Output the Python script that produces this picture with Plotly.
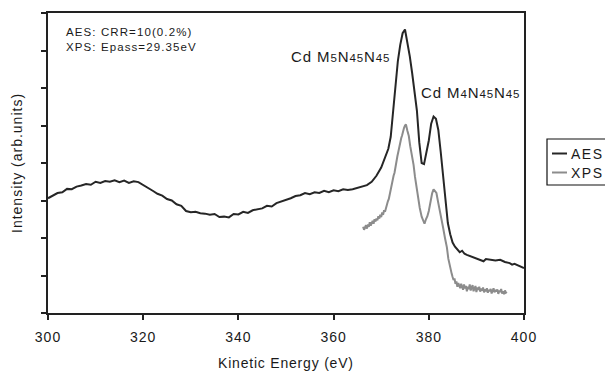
import plotly.graph_objects as go

# AES spectrum (kinetic energy in eV, intensity in arb. units)
aes_ev = [300, 301, 302, 303, 304, 305, 306, 307, 308, 309, 310, 311, 312, 313, 314, 315,
          316, 317, 318, 319, 320, 321, 322, 323, 324, 325, 326, 327, 328, 329, 330, 331,
          332, 333, 334, 335, 336, 337, 338, 339, 340, 341, 342, 343, 344, 345, 346, 347,
          348, 349, 350, 351, 352, 353, 354, 355, 356, 357, 358, 359, 360, 361, 362, 363,
          364, 365, 366, 367, 368, 369, 370, 371, 371.5, 372, 372.5, 373, 373.5, 374, 374.5,
          375, 375.5, 376, 376.5, 377, 377.5, 378, 378.5, 379, 379.5, 380, 380.5, 381, 381.5,
          382, 382.5, 383, 383.5, 384, 384.5, 385, 385.5, 386, 386.5, 387, 387.5, 388, 389,
          390, 391, 391.5, 392, 393, 394, 395, 396, 397, 397.5, 398, 399, 399.5, 400]
aes_int = [3.06, 3.14, 3.20, 3.22, 3.31, 3.30, 3.37, 3.40, 3.44, 3.42, 3.50, 3.47, 3.52, 3.50, 3.54, 3.49,
           3.53, 3.47, 3.51, 3.49, 3.42, 3.35, 3.26, 3.18, 3.13, 3.04, 3.00, 2.90, 2.86, 2.72, 2.69, 2.70,
           2.66, 2.65, 2.62, 2.64, 2.56, 2.57, 2.55, 2.64, 2.63, 2.70, 2.67, 2.74, 2.77, 2.79, 2.86, 2.84,
           2.93, 2.97, 3.01, 3.06, 3.12, 3.14, 3.20, 3.17, 3.22, 3.20, 3.26, 3.22, 3.27, 3.25, 3.30, 3.28,
           3.30, 3.33, 3.38, 3.41, 3.50, 3.66, 3.88, 4.18, 4.38, 4.70, 5.40, 6.10, 6.72, 7.15, 7.46,
           7.56, 7.25, 6.85, 6.40, 5.95, 5.40, 4.55, 4.00, 3.97, 4.25, 4.60, 5.05, 5.24, 5.18,
           4.88, 4.30, 3.65, 3.00, 2.40, 2.10, 1.88, 1.77, 1.68, 1.62, 1.66, 1.58, 1.55, 1.50,
           1.47, 1.42, 1.38, 1.44, 1.42, 1.40, 1.42, 1.36, 1.33, 1.29, 1.31, 1.26, 1.22, 1.20]

# XPS spectrum
xps_ev = [366.2, 366.4, 366.6, 366.8, 367.0, 367.2, 367.4, 367.6, 367.8, 368.0, 368.2, 368.4,
          368.6, 368.8, 369.0, 369.2, 369.4, 369.6, 369.8, 370.0, 370.2, 370.4, 370.6, 370.8,
          371.0, 371.2, 371.4, 371.6, 371.8, 372.0, 372.2, 372.4, 372.6, 372.8, 373.0, 373.2,
          373.4, 373.6, 373.8, 374.0, 374.2, 374.4, 374.6, 374.8, 375.0, 375.2,
          375.5, 375.8, 376.1, 376.4, 376.8, 377.1, 377.5, 377.8, 378.1, 378.5, 378.8, 379.1,
          379.4, 379.7, 380.0, 380.3, 380.7, 381.0, 381.3, 381.6, 382.0, 382.3, 382.7, 383.0,
          383.4, 383.8, 384.1, 384.5, 384.8, 385.0, 385.2, 385.4, 385.6, 385.8, 386.0, 386.2,
          386.4, 386.6, 386.8, 387.0, 387.2, 387.4, 387.6, 387.8, 388.0, 388.2, 388.4, 388.6,
          388.8, 389.0, 389.2, 389.4, 389.6, 389.8, 390.0, 390.2, 390.4, 390.6, 390.8, 391.0,
          391.2, 391.4, 391.6, 391.8, 392.0, 392.2, 392.4, 392.6, 392.8, 393.0, 393.2, 393.4,
          393.6, 393.8, 394.0, 394.2, 394.4, 394.6, 394.8, 395.0, 395.2, 395.4, 395.6, 395.8,
          396.0, 396.2, 396.4]
xps_int = [2.30, 2.22, 2.28, 2.34, 2.25, 2.36, 2.30, 2.42, 2.33, 2.40, 2.46, 2.38,
           2.50, 2.44, 2.52, 2.47, 2.58, 2.52, 2.62, 2.56, 2.68, 2.62, 2.74, 2.70,
           2.82, 2.86, 2.98, 3.04, 3.18, 3.26, 3.40, 3.50, 3.66, 3.74, 3.92, 4.02,
           4.18, 4.30, 4.46, 4.52, 4.66, 4.74, 4.88, 4.94, 5.00, 5.03,
           4.86, 4.72, 4.45, 4.26, 3.95, 3.63, 3.25, 3.01, 2.80, 2.57, 2.45, 2.38,
           2.50, 2.58, 2.72, 2.95, 3.19, 3.30, 3.24, 3.20, 2.93, 2.70, 2.48, 2.28,
           2.00, 1.75, 1.45, 1.18, 1.05, 0.96, 0.88, 0.92, 0.78, 0.84, 0.70, 0.80,
           0.74, 0.66, 0.78, 0.70, 0.62, 0.76, 0.66, 0.72, 0.58, 0.70, 0.64, 0.76,
           0.60, 0.68, 0.74, 0.58, 0.66, 0.72, 0.56, 0.68, 0.62, 0.70, 0.57, 0.65,
           0.60, 0.68, 0.55, 0.63, 0.58, 0.66, 0.54, 0.62, 0.58, 0.64, 0.52, 0.60,
           0.66, 0.55, 0.62, 0.57, 0.63, 0.51, 0.60, 0.56, 0.64, 0.52, 0.58, 0.50,
           0.60, 0.54, 0.56]

x_ticks = [300, 320, 340, 360, 380, 400]
y_ticks = [0, 1, 2, 3, 4, 5, 6, 7, 8]

series_names = ["AES", "XPS"]
series_colors = ["#262626", "#8c8c8c"]

FONT = "Liberation Sans, Arial, sans-serif"
INK = "#1a1a1a"


def spaced(text, px):
    return f'<span style="letter-spacing:{px}px">{text}</span>'


fig = go.Figure()
fig.add_trace(go.Scatter(x=aes_ev, y=aes_int, mode="lines", name=series_names[0],
                         line=dict(color=series_colors[0], width=2), showlegend=False))
fig.add_trace(go.Scatter(x=xps_ev, y=xps_int, mode="lines", name=series_names[1],
                         line=dict(color=series_colors[1], width=2), showlegend=False))

W, H = 605, 371
L, R, T, B = 48, 81, 13, 58
pw, ph = W - L - R, H - T - B


def px_x(p):
    return (p - L) / pw


def px_y(p):
    return (H - B - p) / ph


annotations = [
    dict(text=spaced("AES: CRR=10(0.2%)", 1.1), xref="paper", yref="paper",
         x=px_x(64), y=px_y(32), xanchor="left", yanchor="middle", showarrow=False,
         font=dict(size=11.5)),
    dict(text=spaced("XPS: Epass=29.35eV", 1.1), xref="paper", yref="paper",
         x=px_x(64), y=px_y(47), xanchor="left", yanchor="middle", showarrow=False,
         font=dict(size=11.5)),
    dict(text=spaced('Cd M<span style="font-size:11.5px">5</span>N<span style="font-size:11.5px">45</span>'
                     'N<span style="font-size:11.5px">45</span>', 0.9),
         xref="x", yref="y", x=372.3, y=6.83, xanchor="right", yanchor="middle",
         showarrow=False, font=dict(size=15)),
    dict(text=spaced('Cd M<span style="font-size:11.5px">4</span>N<span style="font-size:11.5px">45</span>'
                     'N<span style="font-size:11.5px">45</span>', 0.9),
         xref="x", yref="y", x=377.9, y=5.87, xanchor="left", yanchor="middle",
         showarrow=False, font=dict(size=15)),
    dict(text=spaced("Kinetic Energy (eV)", 0.8), xref="paper", yref="paper",
         x=0.5, y=px_y(363), xanchor="center", yanchor="middle", showarrow=False,
         font=dict(size=14)),
    dict(text=spaced("Intensity (arb.units)", 1), xref="paper", yref="paper",
         x=px_x(17), y=0.5, xanchor="center", yanchor="middle", showarrow=False,
         textangle=-90, font=dict(size=14)),
]

# legend box drawn at the right edge
shapes = [
    dict(type="rect", xref="paper", yref="paper", x0=px_x(547), x1=px_x(650),
         y0=px_y(185), y1=px_y(139), line=dict(color="#111111", width=1.2),
         fillcolor="white"),
]
legend_rows = [153.5, 172.5]
for name, color, row in zip(series_names, series_colors, legend_rows):
    shapes.append(dict(type="line", xref="paper", yref="paper", x0=px_x(552), x1=px_x(567),
                       y0=px_y(row), y1=px_y(row), line=dict(color=color, width=2)))
    annotations.append(dict(text=spaced(name, 1.5), xref="paper", yref="paper",
                            x=px_x(569), y=px_y(row), xanchor="left", yanchor="middle",
                            showarrow=False, font=dict(size=14)))

fig.update_layout(
    width=W, height=H,
    margin=dict(l=L, r=R, t=T, b=B, autoexpand=False),
    paper_bgcolor="white", plot_bgcolor="white",
    font=dict(family=FONT, color=INK),
    showlegend=False,
    annotations=annotations,
    shapes=shapes,
    xaxis=dict(range=[300, 400], tickvals=x_ticks,
               ticktext=[spaced(str(v), 1) for v in x_ticks],
               ticks="outside", ticklen=5, tickwidth=1.5, tickcolor="#222222",
               showline=True, linewidth=2, linecolor="#222222", mirror=True,
               showgrid=False, zeroline=False, tickfont=dict(size=14),
               ticklabelstandoff=5),
    yaxis=dict(range=[0, 8], tickvals=y_ticks, showticklabels=False,
               ticks="outside", ticklen=5, tickwidth=1.5, tickcolor="#222222",
               showline=True, linewidth=2, linecolor="#222222", mirror=True,
               showgrid=False, zeroline=False),
)

fig.write_html("out.html")
